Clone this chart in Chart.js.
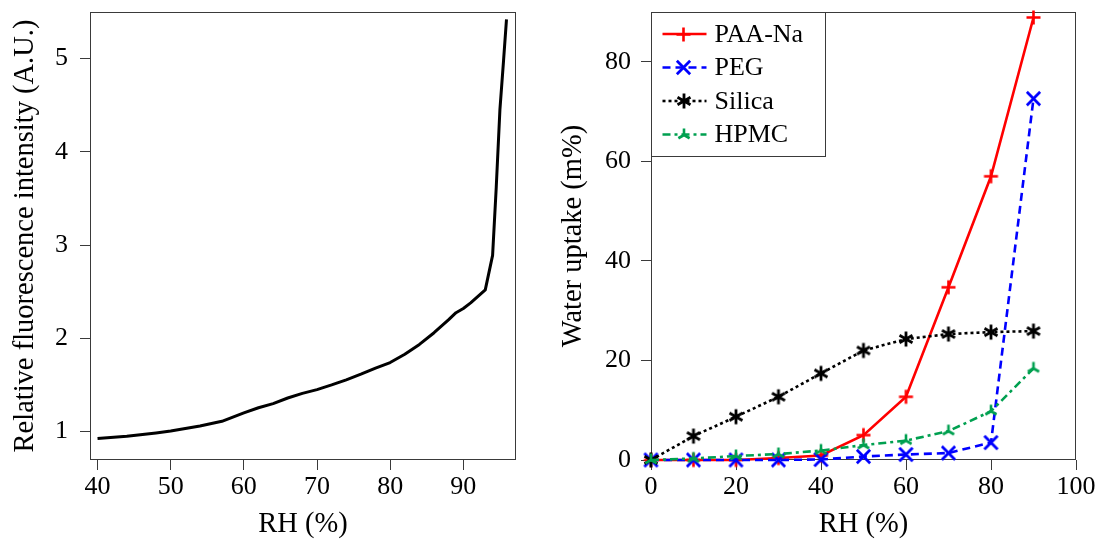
<!DOCTYPE html>
<html>
<head>
<meta charset="utf-8">
<script src="https://cdn.jsdelivr.net/npm/chart.js@4/dist/chart.umd.min.js"></script>
<style>
  html, body { margin: 0; padding: 0; background: #fff; }
  #left  { position: absolute; left: 0;     top: 0; width: 548px; height: 539px; }
  #right { position: absolute; left: 548px; top: 0; width: 549px; height: 539px; }
</style>
</head>
<body>
<div id="left"><canvas id="fluo"></canvas></div>
<div id="right"><canvas id="uptake"></canvas></div>
<script>
// ---- Fluorescence response vs relative humidity ----
const fluoRH        = [40, 44, 48, 50, 54, 57, 60, 62, 64, 66, 68, 70, 72, 74, 76, 78, 80, 82, 84, 86, 88, 89, 90, 91, 93, 94, 94.5, 95, 95.5, 95.9];
const fluoIntensity = [0.925, 0.95, 0.985, 1.005, 1.06, 1.11, 1.2, 1.255, 1.3, 1.36, 1.41, 1.45, 1.5, 1.555, 1.615, 1.68, 1.74, 1.83, 1.935, 2.06, 2.2, 2.275, 2.32, 2.38, 2.52, 2.89, 3.62, 4.45, 4.98, 5.42];
const fluoXTicks = [40, 50, 60, 70, 80, 90];
const fluoYTicks = [1, 2, 3, 4, 5];

// ---- Water uptake of the reference materials ----
const uptakeRH = [0, 10, 20, 30, 40, 50, 60, 70, 80, 90];
const paaNa    = [0, 0, 0, 0.4, 0.9, 5.0, 12.7, 34.7, 57.0, 88.9];
const peg      = [0, 0, 0, 0, 0.1, 0.7, 1.1, 1.4, 3.5, 72.6];
const silica   = [0, 4.8, 8.7, 12.7, 17.4, 22.0, 24.3, 25.3, 25.7, 25.9];
const hpmc     = [0, 0.3, 0.8, 1.2, 1.9, 3.0, 3.9, 5.8, 9.8, 18.4];
const uptakeXTicks = [0, 20, 40, 60, 80, 100];
const uptakeYTicks = [0, 20, 40, 60, 80];

const FONT_FAMILY = "'Liberation Serif', 'DejaVu Serif', serif";
const FONT  = { family: FONT_FAMILY, size: 26 };
const TITLE_FONT = { family: FONT_FAMILY, size: 28.5, lineHeight: 1.0 };
const FRAME = '#3a3a3a';
const RED = '#ff0000', BLUE = '#0000ff', BLACK = '#000000', GREEN = '#00a050';

// ---- marker glyphs drawn on small canvases ----
function glyph(r, lw, color, paint) {
  const s = Math.ceil(2 * r + lw + 2);
  const c = document.createElement('canvas');
  c.width = c.height = s;
  const g = c.getContext('2d');
  g.strokeStyle = color; g.lineWidth = lw; g.lineCap = 'butt';
  g.translate(s / 2, s / 2);
  g.beginPath(); paint(g, r); g.stroke();
  return c;
}
const plusMark = glyph(7, 2.6, RED, (g, r) => { g.moveTo(-r, 0); g.lineTo(r, 0); g.moveTo(0, -r); g.lineTo(0, r); });
const xMark = glyph(7, 2.8, BLUE, (g, r) => { const d = r * 0.95; g.moveTo(-d, -d); g.lineTo(d, d); g.moveTo(-d, d); g.lineTo(d, -d); });
const asteriskMark = glyph(7.5, 2.8, BLACK, (g, r) => {
  for (const a of [90, 30, -30]) {
    const t = a * Math.PI / 180;
    g.moveTo(-r * Math.cos(t), r * Math.sin(t));
    g.lineTo(r * Math.cos(t), -r * Math.sin(t));
  }
});
const mercedesMark = glyph(6.5, 2.6, GREEN, (g, r) => {
  for (const a of [90, 210, 330]) {
    const t = a * Math.PI / 180;
    g.moveTo(0, 0); g.lineTo(r * Math.cos(t), -r * Math.sin(t));
  }
});

// ---- shared axis builder ----
function axis({ min, max, ticks, size, horizontal, pad, title, titlePad }) {
  return {
    type: 'linear',
    position: horizontal ? 'bottom' : 'left',
    min, max,
    afterBuildTicks: s => { s.ticks = ticks.map(v => ({ value: v })); },
    afterFit: s => {
      if (horizontal) s.height = size; else s.width = size;
      s.paddingLeft = s.paddingRight = s.paddingTop = s.paddingBottom = 0;
    },
    ticks: { font: FONT, color: '#000', padding: pad, maxRotation: 0, autoSkip: false, callback: v => String(v) },
    grid: { drawOnChartArea: false, drawTicks: true, tickLength: 10, color: FRAME, lineWidth: 1 },
    border: { display: false },
    title: { display: true, text: title, font: TITLE_FONT, color: '#000', padding: titlePad }
  };
}

// frame around the plotting area, beneath the data
const framePlugin = {
  id: 'frame',
  beforeDatasetsDraw(chart) {
    const { ctx, chartArea: a } = chart;
    ctx.save();
    ctx.strokeStyle = FRAME; ctx.lineWidth = 1;
    const l = Math.round(a.left) + 0.5, t = Math.round(a.top) + 0.5;
    const r = Math.round(a.right) - 0.5, b = Math.round(a.bottom) - 0.5;
    ctx.strokeRect(l, t, r - l, b - t);
    ctx.restore();
  }
};

// ---- left: fluorescence intensity ----
new Chart(document.getElementById('fluo'), {
  type: 'line',
  data: {
    datasets: [{
      data: fluoRH.map((x, i) => ({ x, y: fluoIntensity[i] })),
      borderColor: BLACK, borderWidth: 3, pointRadius: 0, tension: 0,
      borderJoinStyle: 'round', clip: false
    }]
  },
  options: {
    responsive: true, maintainAspectRatio: false, animation: false, devicePixelRatio: 1,
    layout: { padding: { left: 0, right: 32, top: 12, bottom: 0 } },
    plugins: { legend: { display: false }, tooltip: { enabled: false } },
    scales: {
      x: axis({ min: 38.97, max: 97.2, ticks: fluoXTicks, size: 79, horizontal: true, pad: 2, title: 'RH (%)', titlePad: { top: 0, bottom: 0 } }),
      y: axis({ min: 0.695, max: 5.5, ticks: fluoYTicks, size: 90, horizontal: false, pad: 12, title: 'Relative fluorescence intensity (A.U.)', titlePad: { top: 11, bottom: 0 } })
    }
  },
  plugins: [framePlugin]
});

// ---- right: water uptake ----
const uptakeSeries = [
  { label: 'PAA-Na', values: paaNa,  color: RED,   dash: [],            mark: plusMark,     order: 3 },
  { label: 'PEG',    values: peg,    color: BLUE,  dash: [8, 5],        mark: xMark,        order: 2 },
  { label: 'Silica', values: silica, color: BLACK, dash: [3, 3],        mark: asteriskMark, order: 1 },
  { label: 'HPMC',   values: hpmc,   color: GREEN, dash: [8, 4, 3, 4],  mark: mercedesMark, order: 0 }
];

// boxed legend in the top-left corner of the plotting area
const boxLegend = {
  id: 'boxLegend',
  afterDraw(chart) {
    const { ctx, chartArea: a } = chart;
    const x0 = Math.round(a.left) + 0.5, y0 = Math.round(a.top) + 0.5;
    const w = 174, h = 144;
    ctx.save();
    ctx.fillStyle = '#fff';
    ctx.fillRect(x0, y0, w, h);
    ctx.strokeStyle = FRAME; ctx.lineWidth = 1;
    ctx.strokeRect(x0, y0, w, h);
    uptakeSeries.forEach((s, i) => {
      const cy = y0 + 21.5 + i * 33.5;
      ctx.strokeStyle = s.color; ctx.lineWidth = 2.6; ctx.setLineDash(s.dash);
      ctx.beginPath(); ctx.moveTo(x0 + 11, cy); ctx.lineTo(x0 + 55, cy); ctx.stroke();
      ctx.setLineDash([]);
      ctx.drawImage(s.mark, Math.round(x0 + 32 - s.mark.width / 2), Math.round(cy - s.mark.height / 2));
      ctx.fillStyle = '#000';
      ctx.font = `${FONT.size}px ${FONT.family}`;
      ctx.textBaseline = 'middle'; ctx.textAlign = 'left';
      ctx.fillText(s.label, x0 + 63, cy + 1);
    });
    ctx.restore();
  }
};

new Chart(document.getElementById('uptake'), {
  type: 'line',
  data: {
    datasets: uptakeSeries.map(s => ({
      label: s.label,
      data: uptakeRH.map((x, i) => ({ x, y: s.values[i] })),
      borderColor: s.color, borderWidth: 2.6, borderDash: s.dash, tension: 0,
      pointStyle: s.mark, pointRadius: 7, order: s.order, clip: false
    }))
  },
  options: {
    responsive: true, maintainAspectRatio: false, animation: false, devicePixelRatio: 1,
    layout: { padding: { left: 0, right: 21, top: 12, bottom: 0 } },
    plugins: { legend: { display: false }, tooltip: { enabled: false } },
    scales: {
      x: axis({ min: 0, max: 100, ticks: uptakeXTicks, size: 79, horizontal: true, pad: 2, title: 'RH (%)', titlePad: { top: 0, bottom: 0 } }),
      y: axis({ min: 0, max: 90, ticks: uptakeYTicks, size: 103, horizontal: false, pad: 10, title: 'Water uptake (m%)', titlePad: { top: 11, bottom: 0 } })
    }
  },
  plugins: [framePlugin, boxLegend]
});
</script>
</body>
</html>
